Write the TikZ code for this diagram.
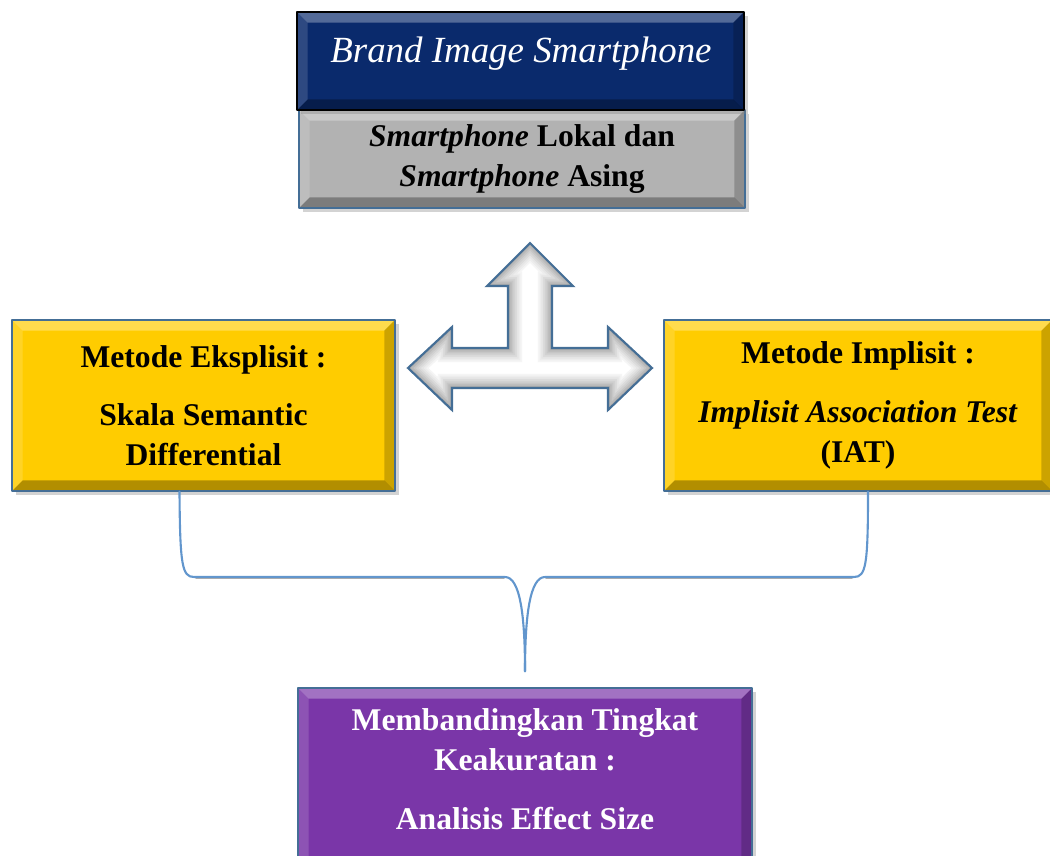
\documentclass[tikz,border=0pt]{standalone}
\usepackage{fontspec}
\setmainfont{Liberation Serif}
\usetikzlibrary{shadows, calc}

\definecolor{navyfill}{RGB}{10,42,108}
\definecolor{greyfill}{RGB}{178,178,178}
\definecolor{goldfill}{RGB}{255,204,0}
\definecolor{purplefill}{RGB}{122,54,168}
\definecolor{edgeblue}{RGB}{68,110,150}
\definecolor{bracecol}{RGB}{98,150,205}

\tikzset{
  bevel/.style={path picture={
    \fill[white, opacity=0.3] (path picture bounding box.north west) -- (path picture bounding box.north east) -- ([shift={(-6pt,-6pt)}]path picture bounding box.north east) -- ([shift={(6pt,-6pt)}]path picture bounding box.north west) -- cycle;
    \fill[white, opacity=0.15] (path picture bounding box.north west) -- ([shift={(6pt,-6pt)}]path picture bounding box.north west) -- ([shift={(6pt,6pt)}]path picture bounding box.south west) -- (path picture bounding box.south west) -- cycle;
    \fill[black, opacity=0.3] (path picture bounding box.south west) -- (path picture bounding box.south east) -- ([shift={(-6pt,6pt)}]path picture bounding box.south east) -- ([shift={(6pt,6pt)}]path picture bounding box.south west) -- cycle;
    \fill[black, opacity=0.2] (path picture bounding box.north east) -- ([shift={(-6pt,-6pt)}]path picture bounding box.north east) -- ([shift={(-6pt,6pt)}]path picture bounding box.south east) -- (path picture bounding box.south east) -- cycle;
  }},
  panel/.style={rectangle, draw=edgeblue, line width=0.8pt, bevel, inner sep=0pt, align=center,
    drop shadow={shadow xshift=2.5pt, shadow yshift=-2.5pt, opacity=0.35}},
  boldtext/.style={font=\fontsize{18}{22.5}\selectfont\bfseries},
  braceline/.style={draw=bracecol, line width=1.2pt}
}

\newcommand{\tarrow}{(530,243) -- (573,286) -- (552,286) -- (552,348) -- (608,348) -- (608,327) -- (652,368) -- (608,410) -- (608,388) -- (452,388) -- (452,410) -- (408,368) -- (452,327) -- (452,348) -- (508,348) -- (508,286) -- (487,286) -- cycle}

\begin{document}
\begin{tikzpicture}[x=0.02cm, y=-0.02cm, line join=round, line cap=round]
    \useasboundingbox (0,0) rectangle (1050,855);

    % top boxes
    \node[panel, fill=greyfill, minimum width=8.92cm, minimum height=1.96cm, boldtext] (asal) at (522,159) {\textit{Smartphone} Lokal dan\\ \textit{Smartphone} Asing};
    \node[panel, fill=navyfill, draw=black, minimum width=8.94cm, minimum height=1.96cm] (brand) at (520.5,61) {};
    \node[text=white, font=\fontsize{21}{25}\selectfont\itshape] (brandtxt) at (521,54) {Brand Image Smartphone};

    % methods
    \node[panel, fill=goldfill, minimum width=7.66cm, minimum height=3.42cm, boldtext] (eksplisit) at (203.5,405.5) {Metode Eksplisit :\\[11pt] Skala Semantic\\ Differential};
    \node[panel, fill=goldfill, minimum width=7.76cm, minimum height=3.42cm, boldtext] (implisit) at (858,405.5) {Metode Implisit :\\[11pt] \textit{Implisit Association Test}\\ (IAT)};

    % result
    \node[panel, fill=purplefill, minimum width=9.08cm, minimum height=3.84cm] (akurasi) at (525,784) {};
    \node[text=white, boldtext, align=center] (akurasitxt) at (525,769) {Membandingkan Tingkat\\ Keakuratan :\\[11pt] Analisis Effect Size};

    % three-way arrow
    \fill[white] \tarrow;
    \begin{scope}
        \clip \tarrow;
        \foreach \w/\g in {16/8, 14/14, 12/20, 10/28, 8/36, 6/45, 4/55, 2/65}
            \draw[gray!\g, line width=\w pt, line join=miter] \tarrow;
    \end{scope}
    \draw[edgeblue, line width=1.2pt, line join=miter] \tarrow;

    % brace
    \coordinate (bl) at ($(eksplisit.south)+(-24,0)$);
    \coordinate (br) at ($(implisit.south)+(10,0)$);
    \coordinate (tip) at ($(akurasi.north)+(0,-16)$);
    \draw[braceline] (bl) .. controls (180,565) and (182,577) .. (194,577) -- (505,577) .. controls (520,577) and (525,615) .. (tip);
    \draw[braceline] (br) .. controls (868,565) and (866,577) .. (854,577) -- (545,577) .. controls (530,577) and (525,615) .. (tip);
    \draw[black!60, opacity=0.5, line width=0.8pt] (196,578.5) -- (504,578.5) (546,578.5) -- (852,578.5);
\end{tikzpicture}
\end{document}
